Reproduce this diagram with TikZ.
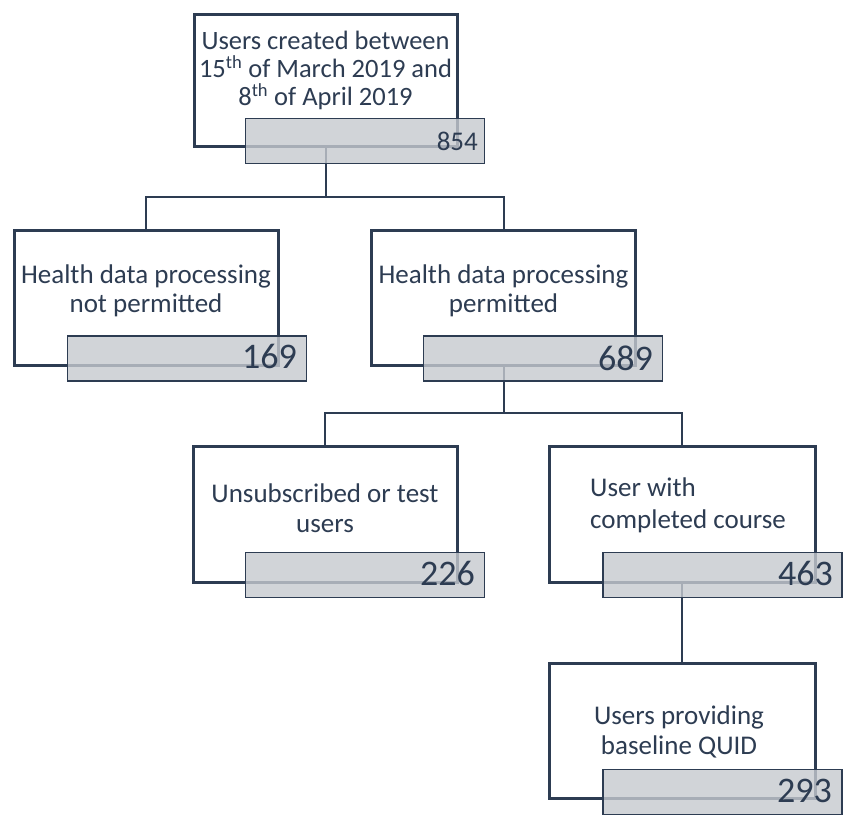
\documentclass[tikz,border=0pt]{standalone}
\usepackage{fontspec}
\setmainfont{Carlito}
\definecolor{navy}{HTML}{2D3C52}
\definecolor{greyfill}{HTML}{C6CACF}
\tikzset{
  outer/.style={draw=navy, line width=3pt, fill=white, inner sep=0pt},
  count/.style={draw=navy, line width=1.3pt, fill=greyfill, fill opacity=0.8, inner sep=0pt, minimum width=239pt, minimum height=45pt},
  lbl/.style={text=navy, font=\fontsize{27}{29.5}\selectfont, align=center, inner sep=0pt},
  num/.style={text=navy, font=\fontsize{36}{36}\selectfont, anchor=base east, inner sep=0pt},
  link/.style={draw=navy, line width=2pt}
}
\begin{document}
\begin{tikzpicture}[x=1pt,y=-1pt]
\useasboundingbox (0,0) rectangle (845,814);
\clip (0,0) rectangle (845,814);
\fill[white] (0,0) rectangle (845,814);
% white boxes
\node[outer, minimum width=263pt, minimum height=132pt] (b1) at (325.5,80) {};
\node[outer, minimum width=264pt, minimum height=135pt] (b2) at (146,297.5) {};
\node[outer, minimum width=264pt, minimum height=135pt] (b3) at (503.5,297.5) {};
\node[outer, minimum width=264pt, minimum height=136pt] (b4) at (325,514) {};
\node[outer, minimum width=266pt, minimum height=136pt] (b5) at (682,514) {};
\node[outer, minimum width=266pt, minimum height=135pt] (b6) at (682,731) {};
% connectors
\coordinate (j1) at (325.5,197);
\coordinate (j2) at (503.5,413);
\draw[link] (b1.south) -- (j1);
\draw[link] (j1) -| (b2.north);
\draw[link] (j1) -| (b3.north);
\draw[link] (b3.south) -- (j2);
\draw[link] (j2) -| (b4.north);
\draw[link] (j2) -| (b5.north);
\draw[link] (b5.south) -- (b6.north);
% count boxes
\node[count] (g1) at (365,141) {};
\node[count] (g2) at (187,358.5) {};
\node[count] (g3) at (543,358.5) {};
\node[count] (g4) at (365,575) {};
\node[count] (g5) at (722.5,575) {};
\node[count] (g6) at (722.5,792) {};
% labels
\node[lbl, font=\fontsize{26.5}{28}\selectfont] (t1) at (325.5,70) {Users created between\\15\textsuperscript{th} of March 2019 and\\8\textsuperscript{th} of April 2019};
\node[lbl] (t2) at (146,291) {Health data processing\\not permitted};
\node[lbl] (t3) at (503.5,291) {Health data processing\\permitted};
\node[lbl] (t4) at (325,508) {Unsubscribed or test\\users};
\node[lbl, align=left, anchor=west, font=\fontsize{27}{32}\selectfont] (t5) at (590,505) {User with\\completed course};
\node[lbl] (t6) at (679,732) {Users providing\\baseline QUID};
% numbers
\node[num, font=\fontsize{27}{27}\selectfont] (n1) at (478,150) {854};
\node[num] (n2) at (297,368) {169};
\node[num] (n3) at (653,370) {689};
\node[num] (n4) at (475,585) {226};
\node[num] (n5) at (833,585) {463};
\node[num] (n6) at (832,802) {293};
\end{tikzpicture}
\end{document}
